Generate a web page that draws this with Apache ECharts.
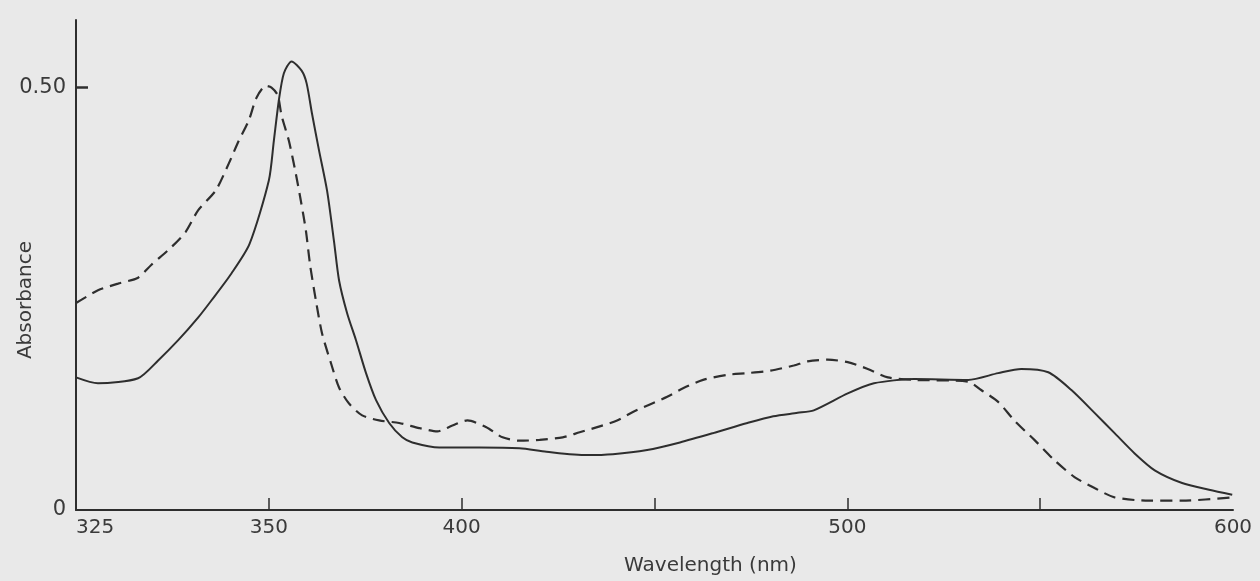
<!DOCTYPE html>
<html>
<head>
<meta charset="utf-8">
<script src="https://cdn.jsdelivr.net/npm/echarts@6/dist/echarts.min.js"></script>
<style>
  html, body { margin: 0; padding: 0; background: #e9e9e9; }
  #chart { width: 1260px; height: 581px; }
</style>
</head>
<body>
<div id="chart"></div>
<script>
// Axis ticks and labels
const xTickValues = [350, 400, 450, 500, 550];
const xLabelValues = [300, 350, 400, 500, 600];
const xLabelTexts = ['325', '350', '400', '500', '600'];
const yLabelValues = [0, 0.5];
const yLabelTexts = ['0', '0.50'];

// Solid curve
const solidNm = [300, 305.7, 316.1, 321.3, 326.5, 331.7, 335.1, 340.3, 345.0, 350.0, 351.3, 352.6, 353.9, 355.9, 358.5, 359.8, 361.2, 363.0, 365.1, 366.9, 368.2, 370.3, 372.6, 375.2, 377.8, 381.2, 384.6, 387.2, 394.2, 404.6, 415.0, 422.0, 432.4, 439.2, 448.1, 456.6, 465.2, 474.1, 480.8, 487.1, 491.3, 500.1, 506.9, 517.3, 531.3, 539.1, 545.1, 552.1, 558.1, 564.1, 569.3, 574.5, 579.7, 586.8, 593.8, 599.8];
const solidAbs = [0.157, 0.150, 0.156, 0.177, 0.201, 0.228, 0.248, 0.280, 0.315, 0.390, 0.437, 0.485, 0.517, 0.531, 0.520, 0.505, 0.469, 0.426, 0.378, 0.318, 0.272, 0.233, 0.201, 0.162, 0.130, 0.103, 0.086, 0.080, 0.074, 0.074, 0.073, 0.069, 0.065, 0.066, 0.071, 0.080, 0.091, 0.103, 0.111, 0.115, 0.118, 0.138, 0.150, 0.155, 0.154, 0.162, 0.167, 0.163, 0.142, 0.115, 0.091, 0.067, 0.047, 0.032, 0.024, 0.018];

// Dashed curve
const dashNm = [300, 305.7, 310.9, 316.1, 319.5, 324.7, 328.4, 331.7, 336.2, 339.6, 342.2, 344.8, 346.8, 349.2, 350.7, 352.3, 353.3, 355.2, 357.0, 358.3, 359.6, 360.7, 362.2, 363.8, 366.1, 368.2, 370.8, 374.2, 378.6, 383.8, 389.0, 393.7, 397.6, 401.5, 406.4, 410.6, 415.0, 420.2, 426.2, 430.6, 435.8, 440.3, 444.4, 448.8, 453.3, 457.4, 462.6, 468.9, 474.1, 480.1, 486.1, 489.7, 494.9, 500.1, 505.3, 510.5, 517.3, 531.3, 534.7, 539.1, 543.3, 548.5, 553.7, 558.9, 564.1, 569.3, 578.2, 586.8, 599.8];
const dashAbs = [0.245, 0.260, 0.268, 0.275, 0.290, 0.311, 0.329, 0.355, 0.378, 0.410, 0.437, 0.461, 0.488, 0.502, 0.500, 0.491, 0.467, 0.437, 0.398, 0.366, 0.331, 0.290, 0.248, 0.209, 0.174, 0.145, 0.126, 0.112, 0.106, 0.103, 0.097, 0.093, 0.100, 0.106, 0.098, 0.086, 0.082, 0.083, 0.086, 0.092, 0.099, 0.106, 0.116, 0.125, 0.134, 0.144, 0.154, 0.160, 0.162, 0.165, 0.171, 0.176, 0.178, 0.175, 0.167, 0.157, 0.154, 0.152, 0.142, 0.128, 0.106, 0.083, 0.059, 0.039, 0.026, 0.015, 0.011, 0.011, 0.015];

const ink = '#2e2e2e';
const font = 'DejaVu Sans';

const chart = echarts.init(document.getElementById('chart'), null, { renderer: 'canvas' });
chart.setOption({
  animation: false,
  backgroundColor: '#e9e9e9',
  grid: { left: 76, right: 27, top: 20, bottom: 71, containLabel: false, outerBoundsMode: 'none' },
  xAxis: {
    type: 'value', min: 300, max: 600, interval: 50,
    name: 'Wavelength (nm)', nameLocation: 'middle', nameGap: 46, nameMoveOverlap: false,
    nameTextStyle: { fontFamily: font, fontSize: 20, color: '#3a3a3a', padding: [0, 0, 0, 112] },
    axisLine: { show: true, lineStyle: { color: ink, width: 2 } },
    axisTick: { show: true, inside: true, length: 12, customValues: xTickValues, lineStyle: { color: ink, width: 1.5 } },
    axisLabel: {
      customValues: xLabelValues,
      formatter: v => xLabelTexts[xLabelValues.indexOf(v)],
      fontFamily: font, fontSize: 20, color: '#3a3a3a', margin: 8,
      alignMinLabel: 'left'
    },
    splitLine: { show: false }
  },
  yAxis: {
    type: 'value', min: 0, max: 0.58,
    name: 'Absorbance', nameLocation: 'middle', nameGap: 40, nameRotate: 90, nameMoveOverlap: false,
    nameTextStyle: { fontFamily: font, fontSize: 20, color: '#3a3a3a', padding: [0, 70, 0, 0] },
    axisLine: { show: true, lineStyle: { color: ink, width: 2 } },
    axisTick: { show: true, inside: true, length: 12, customValues: [0.5], lineStyle: { color: ink, width: 2.5 } },
    axisLabel: {
      customValues: yLabelValues,
      formatter: v => yLabelTexts[yLabelValues.indexOf(v)],
      fontFamily: font, fontSize: 21, color: '#3a3a3a', margin: 10
    },
    splitLine: { show: false }
  },
  series: [
    {
      type: 'line', name: 'solid', showSymbol: false, smooth: 0.25,
      data: solidNm.map((x, i) => [x, solidAbs[i]]),
      lineStyle: { color: ink, width: 2, type: 'solid' }
    },
    {
      type: 'line', name: 'dashed', showSymbol: false, smooth: 0.25,
      data: dashNm.map((x, i) => [x, dashAbs[i]]),
      lineStyle: { color: ink, width: 2.2, type: [12, 7] }
    }
  ]
});
</script>
</body>
</html>
